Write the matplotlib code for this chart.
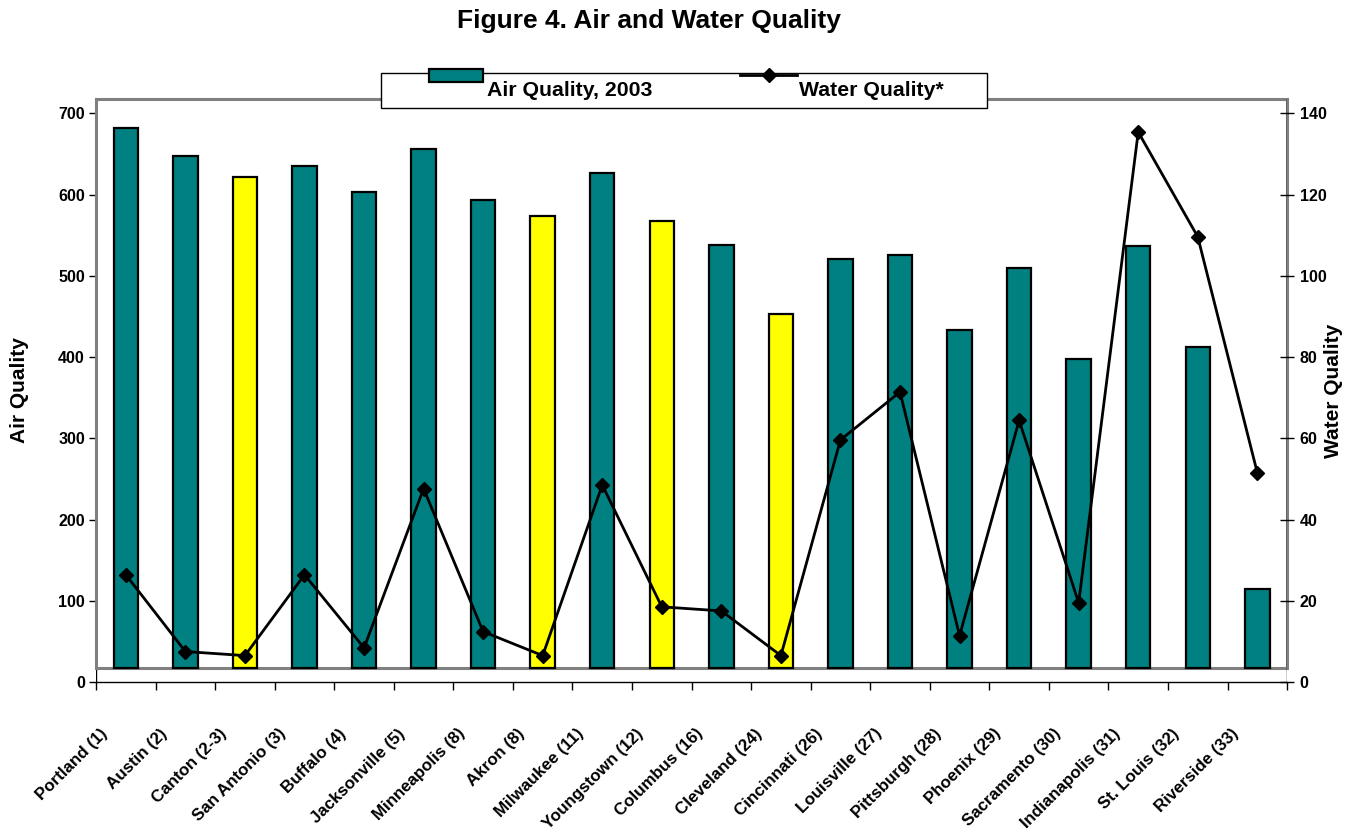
import matplotlib.pyplot as plt
from matplotlib.patches import Rectangle
from matplotlib.lines import Line2D
from matplotlib.transforms import ScaledTranslation
import numpy as np

plt.rcParams['font.family'] = ['Liberation Sans', 'DejaVu Sans']
plt.rcParams['font.weight'] = 'bold'

# data
cities = ['Portland (1)', 'Austin (2)', 'Canton (2-3)', 'San Antonio (3)', 'Buffalo (4)',
          'Jacksonville (5)', 'Minneapolis (8)', 'Akron (8)', 'Milwaukee (11)', 'Youngstown (12)',
          'Columbus (16)', 'Cleveland (24)', 'Cincinnati (26)', 'Louisville (27)', 'Pittsburgh (28)',
          'Phoenix (29)', 'Sacramento (30)', 'Indianapolis (31)', 'St. Louis (32)', 'Riverside (33)']
air_quality = [682, 647, 622, 635, 603, 656, 593, 574, 627, 568,
               538, 453, 521, 526, 433, 509, 398, 537, 412, 114]
water_quality = [26.4, 7.5, 6.5, 26.4, 8.4, 47.6, 12.4, 6.5, 48.5, 18.5,
                 17.5, 6.5, 59.6, 71.4, 11.4, 64.4, 19.5, 135.4, 109.6, 51.5]
highlighted = ['Canton (2-3)', 'Akron (8)', 'Youngstown (12)', 'Cleveland (24)']

air_ticks = [0, 100, 200, 300, 400, 500, 600, 700]
water_ticks = [0, 20, 40, 60, 80, 100, 120, 140]

TEAL = '#008080'
YELLOW = '#FFFF00'
GRAY = '#808080'

air_top = 717.6
floor = 17.2  # bars sit on the plot-area floor, a bit above the axis zero

fig = plt.figure(figsize=(13.51, 8.4), dpi=100)
ax = fig.add_axes([0.0711, 0.1881, 0.8816, 0.6940])

x = np.arange(len(cities))
colors = [YELLOW if c in highlighted else TEAL for c in cities]
heights = [v - floor for v in air_quality]
ax.bar(x, heights, bottom=floor, width=0.41, color=colors, edgecolor='black', linewidth=1.6, zorder=3)
ax.axhline(floor, color=GRAY, lw=2.2, zorder=2)

ax.set_xlim(-0.5, len(cities) - 0.5)
ax.set_ylim(0, air_top)
ax.set_yticks(air_ticks)
ax.tick_params(axis='y', direction='out', length=5, width=1, labelsize=11.5, pad=3)

# tick marks at category boundaries, labels at category centres
ax.set_xticks(np.arange(len(cities) + 1) - 0.5)
ax.set_xticklabels([])
ax.tick_params(axis='x', which='major', direction='out', length=6, width=1)
ax.set_xticks(x, minor=True)
ax.set_xticklabels(cities, minor=True, rotation=45, ha='right', va='top',
                   rotation_mode='anchor', fontsize=12.2)
ax.tick_params(axis='x', which='minor', length=0, pad=0)
offset = ScaledTranslation(-26 / 100, -44 / 100, fig.dpi_scale_trans)
for lbl in ax.get_xticklabels(minor=True):
    lbl.set_transform(lbl.get_transform() + offset)

for side in ['left', 'top', 'right']:
    ax.spines[side].set_color(GRAY)
    ax.spines[side].set_linewidth(2.2)
ax.spines['left'].set_bounds(floor, air_top)
ax.spines['right'].set_bounds(floor, air_top)
ax.spines['bottom'].set_linewidth(1)
ax.axvline(-0.5, ymin=0, ymax=floor / air_top, color='black', lw=1)
ax.set_ylabel('Air Quality', fontsize=15, fontweight='bold', labelpad=21)

ax2 = ax.twinx()
ax2.plot(x, water_quality, color='black', lw=2, marker='D', markersize=7.5, zorder=4)
ax2.set_ylim(0, 140 * air_top / 700)
ax2.set_yticks(water_ticks)
ax2.tick_params(axis='y', direction='inout', length=10, width=1, labelsize=11.5, pad=4)
for side in ['left', 'top', 'bottom', 'right']:
    ax2.spines[side].set_visible(False)
ax2.axvline(len(cities) - 0.5, color='black', lw=1)
ax2.set_ylabel('Water Quality', fontsize=15, fontweight='bold', labelpad=-2)

fig.text(0.48, 0.975, 'Figure 4. Air and Water Quality', ha='center', va='center',
         fontsize=19, fontweight='bold')

# legend drawn by hand, as in the original sheet
fig.patches.append(Rectangle((381 / 1351, 1 - 108 / 840), 606 / 1351, 35 / 840,
                             transform=fig.transFigure, facecolor='white', edgecolor='black',
                             lw=1, zorder=5))
fig.patches.append(Rectangle((429 / 1351, 1 - 82 / 840), 54 / 1351, 13 / 840,
                             transform=fig.transFigure, facecolor=TEAL, edgecolor='black',
                             lw=1.6, zorder=6))
fig.lines.append(Line2D([740 / 1351, 797 / 1351], [1 - 75 / 840, 1 - 75 / 840],
                        transform=fig.transFigure, color='black', lw=2, zorder=6))
fig.lines.append(Line2D([768.5 / 1351], [1 - 75 / 840], transform=fig.transFigure,
                        color='black', marker='D', markersize=7.5, zorder=7))
fig.text(487 / 1351, 1 - 91 / 840, 'Air Quality, 2003', ha='left', va='center',
         fontsize=15.3, fontweight='bold', zorder=7)
fig.text(799 / 1351, 1 - 91 / 840, 'Water Quality*', ha='left', va='center',
         fontsize=15.3, fontweight='bold', zorder=7)

fig.savefig('out.png', dpi=100)
